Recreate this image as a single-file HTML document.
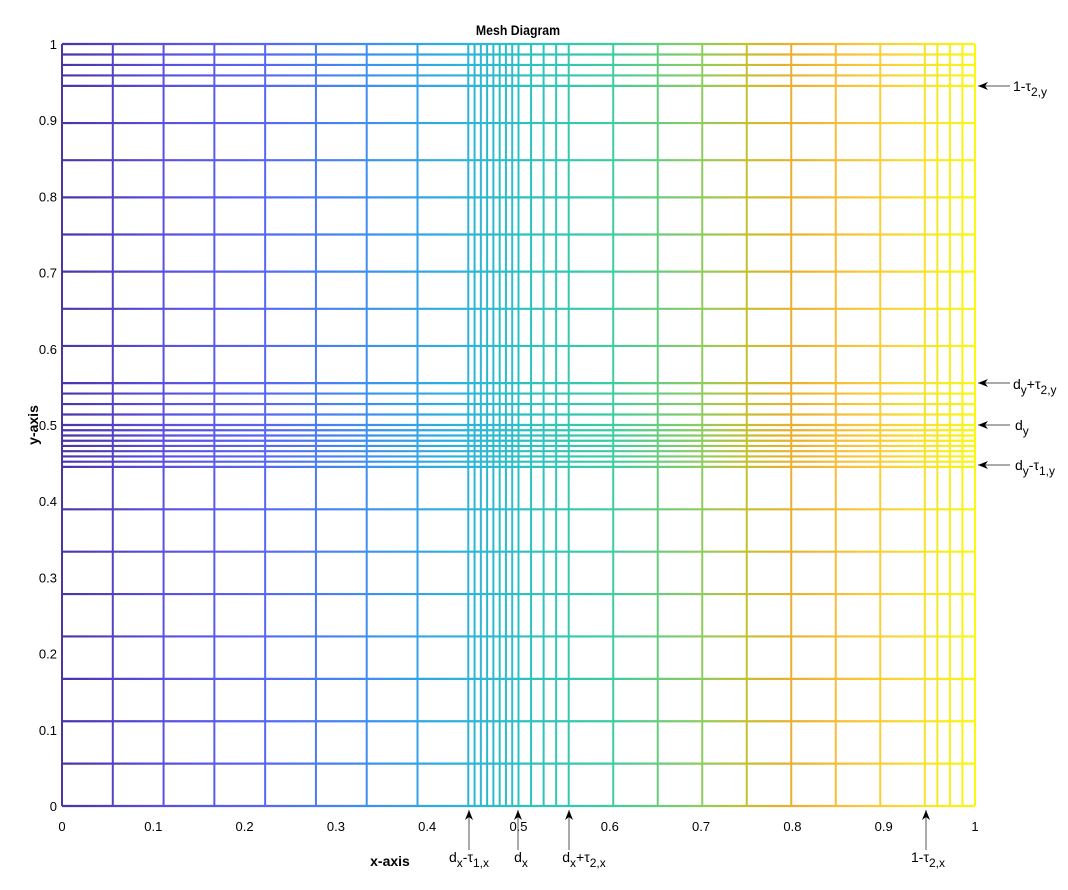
<!DOCTYPE html>
<html><head><meta charset="utf-8"><style>
html,body{margin:0;padding:0;background:#fff;}
svg{display:block;font-family:"Liberation Sans",sans-serif;}
</style></head><body>
<svg id="chart" width="1068" height="890" viewBox="0 0 1068 890" xmlns="http://www.w3.org/2000/svg">
<defs>
<linearGradient id="parula" gradientUnits="userSpaceOnUse" x1="62" y1="0" x2="975" y2="0">
<stop offset="0" stop-color="#4a35a8"/>
<stop offset="0.11" stop-color="#5a4fe0"/>
<stop offset="0.22" stop-color="#5866f5"/>
<stop offset="0.33" stop-color="#3f8ef0"/>
<stop offset="0.42" stop-color="#2eaee0"/>
<stop offset="0.5" stop-color="#2cc0c4"/>
<stop offset="0.6" stop-color="#3ccca0"/>
<stop offset="0.7" stop-color="#8ecc60"/>
<stop offset="0.75" stop-color="#c4c030"/>
<stop offset="0.8" stop-color="#e8b030"/>
<stop offset="0.87" stop-color="#f9c43c"/>
<stop offset="0.94" stop-color="#f7e030"/>
<stop offset="1" stop-color="#f8f810"/>
</linearGradient>
</defs>
<text x="518" y="35" text-anchor="middle" font-size="14" font-weight="bold" transform="translate(518,0) scale(0.88,1) translate(-518,0)">Mesh Diagram</text>
<g id="grid"></g>
<g id="ticks" font-size="13"></g>
<text x="390" y="866" text-anchor="middle" font-size="14" font-weight="bold">x-axis</text>
<text x="0" y="0" text-anchor="middle" font-size="14" font-weight="bold" transform="translate(38,425) rotate(-90)">y-axis</text>
<g id="ann" font-size="14"></g>
</svg>
<script>
const xLines = [0,0.055625,0.11125,0.166875,0.2225,0.278125,0.33375,0.389375,0.445,0.451875,0.45875,0.465625,0.4725,0.479375,0.48625,0.493125,0.5,0.51375,0.5275,0.54125,0.555,0.60375,0.6525,0.70125,0.75,0.79875,0.8475,0.89625,0.945,0.95875,0.9725,0.98625,1];
const yLines = [0,0.055625,0.11125,0.166875,0.2225,0.278125,0.33375,0.389375,0.445,0.451875,0.45875,0.465625,0.4725,0.479375,0.48625,0.493125,0.5,0.51375,0.5275,0.54125,0.555,0.60375,0.6525,0.70125,0.75,0.79875,0.8475,0.89625,0.945,0.95875,0.9725,0.98625,1];
const tickVals = [0,0.1,0.2,0.3,0.4,0.5,0.6,0.7,0.8,0.9,1];
const tickLabels = ["0","0.1","0.2","0.3","0.4","0.5","0.6","0.7","0.8","0.9","1"];
const NS="http://www.w3.org/2000/svg";
const X0=62,X1=975,Y0=806,Y1=44;
const sx=v=>X0+(X1-X0)*v;
const sy=v=>Y0-(Y0-Y1)*v;
const stops=[[0,[74,53,168]],[0.11,[90,79,224]],[0.22,[88,102,245]],[0.33,[63,142,240]],[0.42,[46,174,224]],[0.5,[44,192,196]],[0.6,[60,204,160]],[0.7,[142,204,96]],[0.75,[196,192,48]],[0.8,[232,176,48]],[0.87,[249,196,60]],[0.94,[247,224,48]],[1,[248,248,16]]];
function cmap(t){for(let i=1;i<stops.length;i++){if(t<=stops[i][0]){const a=stops[i-1],b=stops[i];const f=(t-a[0])/(b[0]-a[0]);const c=a[1].map((v,k)=>Math.round(v+(b[1][k]-v)*f));return `rgb(${c})`;}}return 'rgb(248,248,16)';}
function mk(tag,attrs,parent){const e=document.createElementNS(NS,tag);for(const k in attrs)e.setAttribute(k,attrs[k]);parent.appendChild(e);return e;}
const g=document.getElementById('grid');
yLines.forEach((v,i)=>{
  const l=mk('line',{x1:sx(0),x2:sx(1),y1:sy(v),y2:sy(v),stroke:'url(#parula)','stroke-width':2.2},g);
  
  
});
xLines.forEach((v,i)=>{
  const l=mk('line',{x1:sx(v),x2:sx(v),y1:sy(0),y2:sy(1),stroke:cmap(v),'stroke-width':2},g);
  
  
});
const t=document.getElementById('ticks');
tickVals.forEach((v,i)=>{
  const a=mk('text',{x:sx(v),y:831,'text-anchor':'middle'},t);a.textContent=tickLabels[i];
  
  
  const b=mk('text',{x:57,y:sy(v)+5,'text-anchor':'end'},t);b.textContent=tickLabels[i];
  
  
});
const ann=document.getElementById('ann');
function arrow(x1,y1,x2,y2){
  const l=mk('line',{x1,y1,x2,y2,stroke:'#555','stroke-width':1},ann);
  
  
  const dx=x2-x1,dy=y2-y1,L=Math.hypot(dx,dy),ux=dx/L,uy=dy/L,px=-uy,py=ux;
  const p=mk('polygon',{points:`${x2},${y2} ${x2-ux*10+px*4},${y2-uy*10+py*4} ${x2-ux*7},${y2-uy*7} ${x2-ux*10-px*4},${y2-uy*10-py*4}`,fill:'#000'},ann);
  
  
}
function label(x,y,html,anchor){
  const e=mk('text',{x,y,'text-anchor':anchor||'start'},ann);e.innerHTML=html;
  
  
}
arrow(469,850,469,810);arrow(518,850,518,810);arrow(569,850,569,810);arrow(926,850,926,810);
label(469,862,'d<tspan dy="5" font-size="12">x</tspan><tspan dy="-5">-τ</tspan><tspan dy="5" font-size="12">1,x</tspan>','middle');
label(521,862,'d<tspan dy="5" font-size="12">x</tspan>','middle');
label(584,862,'d<tspan dy="5" font-size="12">x</tspan><tspan dy="-5">+τ</tspan><tspan dy="5" font-size="12">2,x</tspan>','middle');
label(928,862,'1-τ<tspan dy="5" font-size="12">2,x</tspan>','middle');
arrow(1010,86,978,86);arrow(1010,383,978,383);arrow(1010,425,978,425);arrow(1010,465,978,465);
label(1013,91,'1-τ<tspan dy="5" font-size="12">2,y</tspan>');
label(1013,389,'d<tspan dy="5" font-size="12">y</tspan><tspan dy="-5">+τ</tspan><tspan dy="5" font-size="12">2,y</tspan>');
label(1015,430,'d<tspan dy="5" font-size="12">y</tspan>');
label(1015,470,'d<tspan dy="5" font-size="12">y</tspan><tspan dy="-5">-τ</tspan><tspan dy="5" font-size="12">1,y</tspan>');
</script>
</body></html>
